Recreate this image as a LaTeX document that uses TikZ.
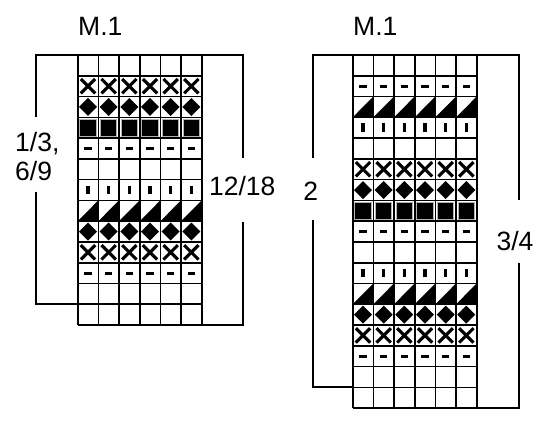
\documentclass[tikz,border=0pt]{standalone}
\usepackage{fontspec}
\setmainfont{Liberation Sans}
\usetikzlibrary{positioning}

\begin{document}
\begin{tikzpicture}[x=1pt, y=-1pt,
        chartline/.style={line width=1.6pt},
        bracketline/.style={line width=2.2pt},
        lbl/.style={font=\fontsize{26.5}{29}\selectfont, inner sep=0pt},
        % cell symbols, drawn round the cell centre
        ecell/.pic={},
        xcell/.pic={\draw[line width=3.1pt] (-7.2,-7.2) -- (7.2,7.2) (-7.2,7.2) -- (7.2,-7.2);},
        dcell/.pic={\fill (-9,0) -- (0,-9) -- (9,0) -- (0,9) -- cycle;},
        scell/.pic={\fill[draw=gray!60, line width=0.8pt] (-8.2,-8.2) rectangle (8.2,8.2);},
        hcell/.pic={\fill (-3.8,-1.6) rectangle (3.8,1.6);},
        vcell/.pic={\fill (-1.6,-4.3) rectangle (1.6,4.3);},
        tcell/.pic={\fill (-10.3,10.4) -- (10.3,10.4) -- (10.3,-10.4) -- cycle;}
    ]
        \useasboundingbox (0,0) rectangle (550,421);

        % Left chart symbols
        \foreach \s [count=\r from 0] in {ecell,xcell,dcell,scell,hcell,ecell,vcell,tcell,dcell,xcell,hcell,ecell,ecell}
            \foreach \c in {0,...,5}
                \pic at (88+20.67*\c, 65.4+20.77*\r) {\s};

        % Left chart grid
        \foreach \c in {0,...,6}
            \draw[chartline] (77.7+20.67*\c,55) -- (77.7+20.67*\c,325);
        \foreach \r in {0,...,13}
            \draw[chartline] (77.7,55+20.77*\r) -- (201.7,55+20.77*\r);

        % Right chart symbols
        \foreach \s [count=\r from 0] in {ecell,hcell,tcell,vcell,ecell,xcell,dcell,scell,hcell,ecell,vcell,tcell,dcell,xcell,hcell,ecell,ecell}
            \foreach \c in {0,...,5}
                \pic at (363+20.67*\c, 65.4+20.77*\r) {\s};

        % Right chart grid
        \foreach \c in {0,...,6}
            \draw[chartline] (352.7+20.67*\c,55) -- (352.7+20.67*\c,408);
        \foreach \r in {0,...,17}
            \draw[chartline] (352.7,55+20.77*\r) -- (476.7,55+20.77*\r);

        % Labels
        \node[lbl, anchor=base] (leftname) at (100.3,35) {M.1};
        \node[lbl, anchor=base] (rightname) at (375.3,35) {M.1};
        \node[lbl, anchor=west, align=left] (leftrep) at (15,157) {1/3,\\6/9};
        \node[lbl, anchor=base] (leftrow) at (242.2,195.7) {12/18};
        \node[lbl, anchor=base] (rightrep) at (310.8,200) {2};
        \node[lbl, anchor=base] (rightrow) at (515,250) {3/4};

        % Brackets, left chart
        \draw[bracketline] (77.7,55) -- (35.7,55) -- (35.7,116.7);
        \draw[bracketline] (35.7,191.7) -- (35.7,304.2) -- (77.7,304.2);
        \draw[bracketline] (201.7,55) -- (242.7,55) -- (242.7,158.3);
        \draw[bracketline] (242.7,221.7) -- (242.7,325) -- (201.7,325);

        % Brackets, right chart
        \draw[bracketline] (352.7,55) -- (312.7,55) -- (312.7,158.3);
        \draw[bracketline] (312.7,220) -- (312.7,387.3) -- (352.7,387.3);
        \draw[bracketline] (476.7,55) -- (518.7,55) -- (518.7,200);
        \draw[bracketline] (518.7,262.7) -- (518.7,408) -- (476.7,408);

    \end{tikzpicture}
\end{document}
